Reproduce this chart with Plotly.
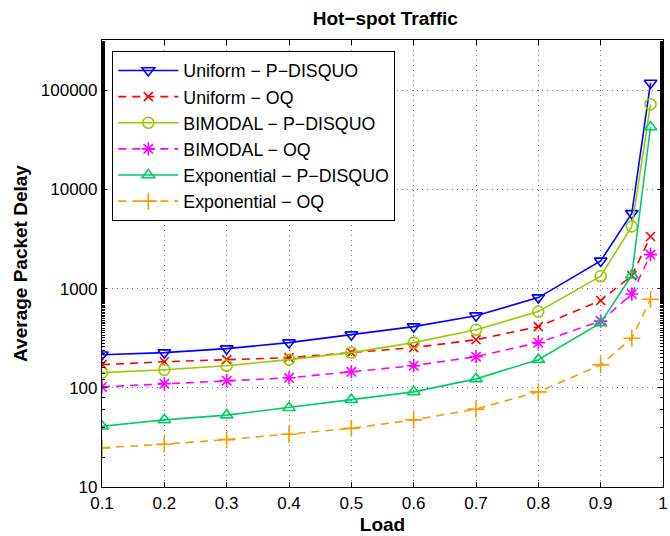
import plotly.graph_objects as go

load = [0.1, 0.2, 0.3, 0.4, 0.5, 0.6, 0.7, 0.8, 0.9, 0.95, 0.98]
uniform_pdisquo = [215, 226, 248, 285, 343, 413, 533, 811, 1900, 5730, 118000]
uniform_oq = [171, 183, 192, 201, 226, 254, 305, 413, 757, 1350, 3350]
bimodal_pdisquo = [142, 152, 167, 192, 226, 285, 385, 586, 1330, 4230, 72000]
bimodal_oq = [102, 110, 118, 126, 145, 167, 206, 285, 470, 880, 2200]
exp_pdisquo = [41, 47.5, 53, 63, 76, 91, 123, 192, 450, 1360, 42500]
exp_oq = [24.8, 27, 30, 34, 39, 47.5, 61, 91, 170, 316, 780]

x_tickvals = [0.1, 0.2, 0.3, 0.4, 0.5, 0.6, 0.7, 0.8, 0.9, 1.0]
x_ticktext = ["0.1", "0.2", "0.3", "0.4", "0.5", "0.6", "0.7", "0.8", "0.9", "1"]
y_tickvals = [10, 100, 1000, 10000, 100000]
y_ticktext = ["10", "100", "1000", "10000", "100000"]

series = [
    ("Uniform − P−DISQUO", uniform_pdisquo, "#0000FF", "solid", "triangle-down-open", 11),
    ("Uniform − OQ", uniform_oq, "#FF0000", "8px,6px", "x-thin-open", 9),
    ("BIMODAL − P−DISQUO", bimodal_pdisquo, "#99CC00", "solid", "circle-open", 11),
    ("BIMODAL − OQ", bimodal_oq, "#FF00FF", "8px,6px", "asterisk-open", 11),
    ("Exponential − P−DISQUO", exp_pdisquo, "#00CC66", "solid", "triangle-up-open", 11),
    ("Exponential − OQ", exp_oq, "#FF9900", "8px,6px", "cross-thin-open", 12),
]

fig = go.Figure()
for name, ys, color, dash, sym, size in series:
    fig.add_trace(go.Scatter(
        x=load, y=ys, name=name, mode="lines+markers",
        line=dict(color=color, width=1.6, dash=dash),
        marker=dict(symbol=sym, size=size, color=color,
                    line=dict(color=color, width=1.6)),
    ))

font_family = "Liberation Sans, Arial, sans-serif"
fig.update_layout(
    width=670, height=536,
    margin=dict(l=102, r=2, t=40, b=49),
    paper_bgcolor="white", plot_bgcolor="white",
    font=dict(family=font_family, size=17, color="black"),
    title=dict(text="<b>Hot−spot Traffic</b>", x=0.575, xanchor="center",
               y=0.965, yanchor="middle", font=dict(size=19)),
    legend=dict(x=0.018, y=0.975, xanchor="left", yanchor="top",
                bgcolor="white", bordercolor="black", borderwidth=1.2,
                font=dict(size=17.8), itemwidth=60, tracegroupgap=0),
    showlegend=True,
)
fig.update_xaxes(
    range=[0.1, 1.0], tickvals=x_tickvals, ticktext=x_ticktext,
    ticklabeloverflow="allow",
    showline=True, linecolor="black", linewidth=1.2, mirror="allticks",
    ticks="inside", ticklen=5, tickcolor="black",
    showgrid=True, gridcolor="rgba(0,0,0,0.55)", griddash="1px,4px", gridwidth=1,
    zeroline=False,
    title=dict(text="<b>Load</b>", font=dict(size=19), standoff=6),
)
fig.update_yaxes(
    type="log", range=[1, 5.505], tickvals=y_tickvals, ticktext=y_ticktext,
    showline=True, linecolor="black", linewidth=1.2, mirror="allticks",
    ticks="inside", ticklen=5, tickcolor="black",
    minor=dict(ticks="inside", ticklen=3, tickcolor="black", showgrid=False),
    showgrid=True, gridcolor="rgba(0,0,0,0.55)", griddash="1px,4px", gridwidth=1,
    zeroline=False,
    title=dict(text="<b>Average Packet Delay</b>", font=dict(size=19), standoff=8),
)
fig.write_html("out.html")
